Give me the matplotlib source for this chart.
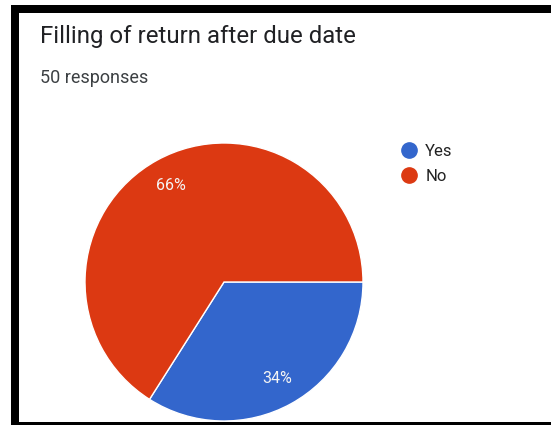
"""Pie chart of survey answers: filing of return after the due date."""

import matplotlib.pyplot as plt
from matplotlib.lines import Line2D
from matplotlib.patches import Rectangle

TITLE = "Filling of return after due date"
SUBTITLE = "50 responses"
labels = ["Yes", "No"]
shares = [34, 66]
colors = ["#3366cc", "#dc3912"]

W, H = 551, 425
plt.rcParams["font.family"] = ["Roboto", "DejaVu Sans"]

fig = plt.figure(figsize=(W / 100, H / 100), dpi=100)
fig.patch.set_facecolor("white")


def px_box(x0, y0, x1, y1):
    """Figure-fraction rect from pixel corners (origin top-left)."""
    return (x0 / W, 1 - y1 / H, (x1 - x0) / W, (y1 - y0) / H)


# dark frame along the left, top and bottom edges
for x0, y0, x1, y1 in [(11, 5, 19, 425), (11, 5, 551, 13), (11, 422, 551, 425)]:
    l, b, w, h = px_box(x0, y0, x1, y1)
    fig.patches.append(Rectangle((l, b), w, h, transform=fig.transFigure,
                                 facecolor="black", edgecolor="none", zorder=0))

fig.text(40 / W, 1 - 43 / H, TITLE, fontsize=17.3, color="#202124", va="baseline")
fig.text(40 / W, 1 - 83 / H, SUBTITLE, fontsize=13, color="#3c4043", va="baseline")

# pie: centre (224, 282) px, radius 139 px
ax = fig.add_axes(px_box(85, 143, 363, 421))
wedges, _, pct = ax.pie(
    shares,
    colors=colors,
    startangle=0,
    counterclock=False,
    autopct="%d%%",
    pctdistance=0.79,
    wedgeprops=dict(edgecolor="white", linewidth=1),
    textprops=dict(color="#f4f4f4", fontsize=11.5),
)
ax.set_xlim(-1, 1)
ax.set_ylim(-1, 1)
ax.set_aspect("equal")
ax.axis("off")

handles = [Line2D([], [], marker="o", linestyle="none", markersize=11,
                  markerfacecolor=c, markeredgecolor=c) for c in colors]
fig.legend(handles, labels, loc="upper left",
           bbox_to_anchor=(401 / W, 1 - 144 / H), frameon=False,
           fontsize=12, labelcolor="#222222", borderpad=0, borderaxespad=0,
           handlelength=1.0, handletextpad=0.45, labelspacing=0.6)

fig.savefig("out.png", dpi=100)
